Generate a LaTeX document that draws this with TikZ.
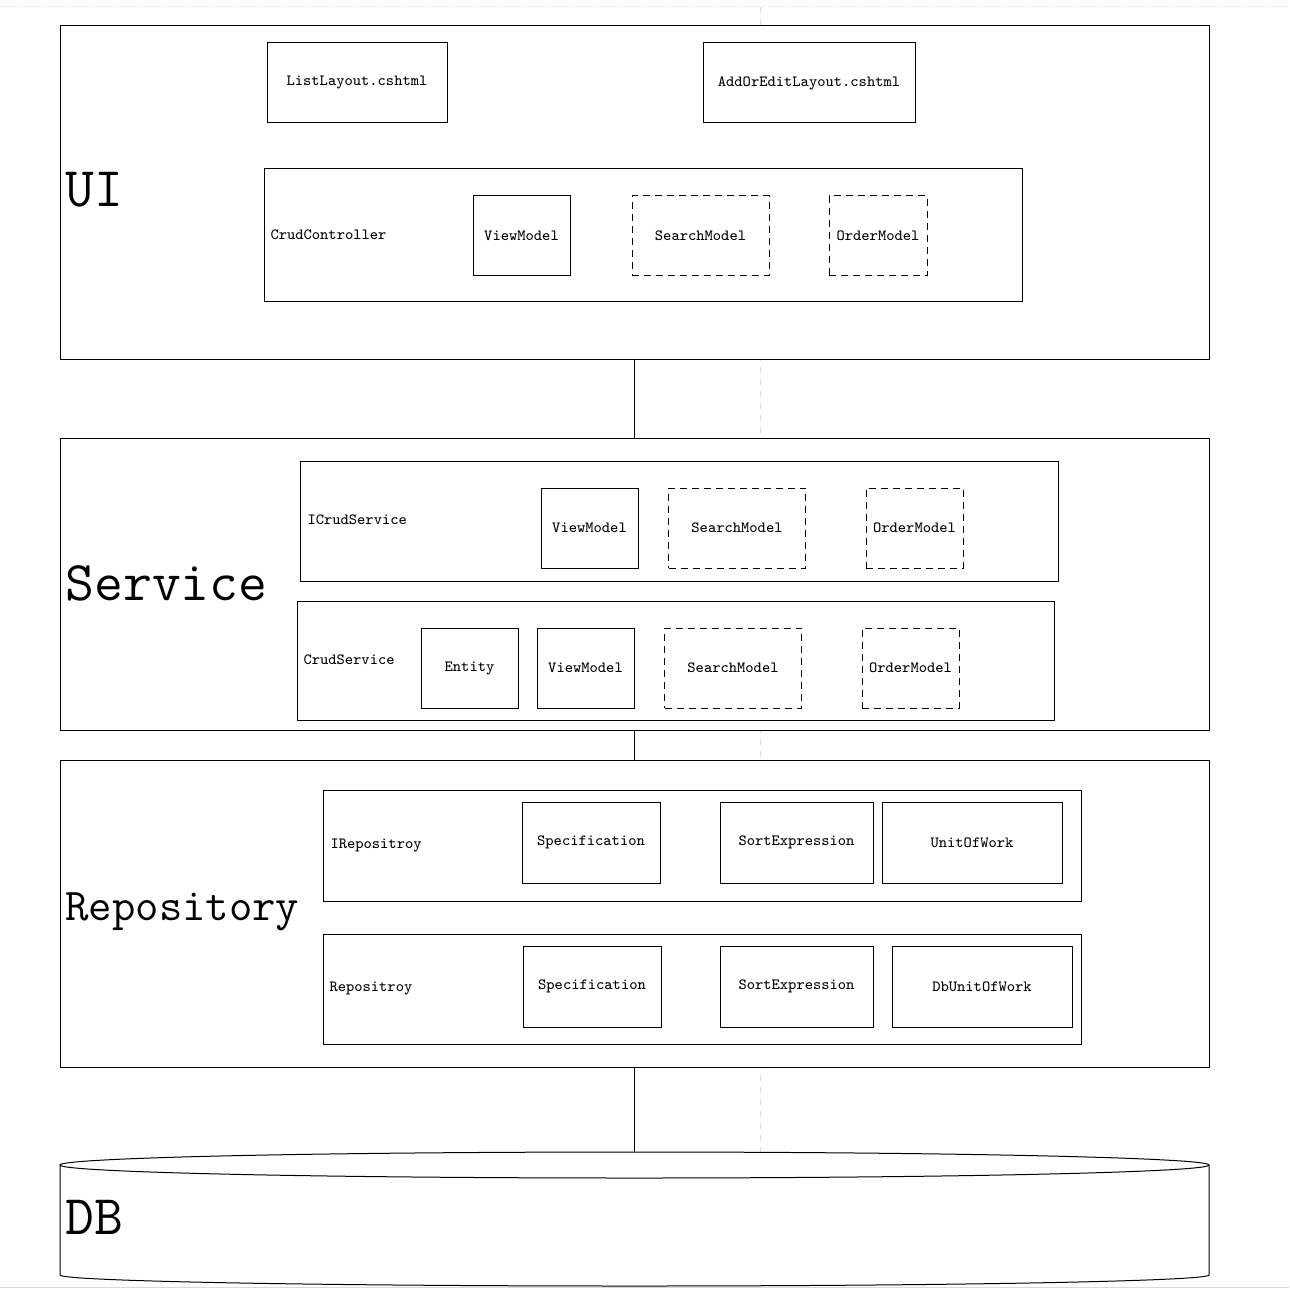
\documentclass[tikz,border=0pt]{standalone}
\usepackage{tikz}

\begin{document}
\begin{tikzpicture}[
            x=0.5pt, y=-0.5pt,
            line width=0.5pt,
            every node/.style={font=\ttfamily\fontsize{7.8}{9}\selectfont},
            box/.style={draw, fill=white, rectangle, inner sep=0pt, outer sep=0pt, align=center},
            optbox/.style={box, dash pattern=on 3.5pt off 2.5pt},
            layer/.style={box, minimum width=574.5pt},
            biglabel/.style={anchor=west, inner sep=0pt, font=\ttfamily\fontsize{28}{30}\selectfont},
            guide/.style={gray!30, line width=0.5pt}
            ]
            \useasboundingbox (0,0) rectangle (1289,1299);

            % Page guides
            \draw[guide, densely dotted] (0,7) -- (1289,7);
            \draw[guide, dashed] (760,7) -- (760,1152);
            \draw[guide] (0,1287) -- (1289,1287);

            % UI layer
            \node[layer, minimum height=166.5pt] (ui) at (634.5,192.5) {};
            \node[biglabel] (uilbl) at (65,190) {UI};
            \node[box, minimum width=90pt, minimum height=40pt] (list) at (357,83) {ListLayout.cshtml};
            \node[box, minimum width=106pt, minimum height=40pt] (edit) at (809,83) {AddOrEditLayout.cshtml};
            \node[box, minimum width=379pt, minimum height=66.5pt] (ctrl) at (643,235.5) {};
            \node[anchor=west, inner sep=0pt] (ctrllbl) at (270,235) {CrudController};
            \node[box, minimum width=48.5pt, minimum height=40pt] (vm1) at (521.5,236) {ViewModel};
            \node[optbox, minimum width=68.5pt, minimum height=40pt] (sm1) at (700.5,236) {SearchModel};
            \node[optbox, minimum width=49pt, minimum height=40pt] (om1) at (878,236) {OrderModel};

            % Service layer
            \node[layer, minimum height=146pt] (svc) at (634.5,584) {};
            \node[biglabel] (svclbl) at (65,583) {Service};
            \node[box, minimum width=379pt, minimum height=60pt] (isvc) at (679,521) {};
            \node[anchor=west, inner sep=0pt] (isvclbl) at (307,520) {ICrudService};
            \node[box, minimum width=48.5pt, minimum height=40pt] (vm2) at (589.5,528) {ViewModel};
            \node[optbox, minimum width=68.5pt, minimum height=40pt] (sm2) at (737,528) {SearchModel};
            \node[optbox, minimum width=48.5pt, minimum height=40pt] (om2) at (914.5,528) {OrderModel};
            \node[box, minimum width=378.5pt, minimum height=59.5pt] (csvc) at (675.5,660.5) {};
            \node[anchor=west, inner sep=0pt] (csvclbl) at (303,660) {CrudService};
            \node[box, minimum width=48.5pt, minimum height=40pt] (ent) at (469.5,668) {Entity};
            \node[box, minimum width=48.5pt, minimum height=40pt] (vm3) at (585.5,668) {ViewModel};
            \node[optbox, minimum width=68.5pt, minimum height=40pt] (sm3) at (733,668) {SearchModel};
            \node[optbox, minimum width=48.5pt, minimum height=40pt] (om3) at (910.5,668) {OrderModel};

            % Repository layer
            \node[layer, minimum height=153.5pt] (repo) at (634.5,913.5) {};
            \node[biglabel, font=\ttfamily\fontsize{22.7}{24}\selectfont] (repolbl) at (65,912) {Repository};
            \node[box, minimum width=379pt, minimum height=55.5pt] (irepo) at (702,845.5) {};
            \node[anchor=west, inner sep=0pt] (irepolbl) at (330,845) {IRepositroy};
            \node[box, minimum width=69pt, minimum height=40.5pt] (spec1) at (591,842.5) {Specification};
            \node[box, minimum width=76.5pt, minimum height=40.5pt] (sort1) at (796.5,842.5) {SortExpression};
            \node[box, minimum width=90pt, minimum height=40.5pt] (uow1) at (972,842.5) {UnitOfWork};
            \node[box, minimum width=379pt, minimum height=55pt] (crepo) at (702,989) {};
            \node[anchor=west, inner sep=0pt] (crepolbl) at (329,988) {Repositroy};
            \node[box, minimum width=69pt, minimum height=40.5pt] (spec2) at (592,986.5) {Specification};
            \node[box, minimum width=76.5pt, minimum height=40.5pt] (sort2) at (796.5,986.5) {SortExpression};
            \node[box, minimum width=90pt, minimum height=40.5pt] (uow2) at (982,986.5) {DbUnitOfWork};

            % DB cylinder
            \coordinate (dbtop) at (634.5,1152);
            \draw[fill=white] (60,1165) -- (60,1275) arc[start angle=180, end angle=360, x radius=574.5, y radius=-11] -- (1209,1165);
            \draw[fill=white] (634.5,1165) ellipse[x radius=574.5, y radius=13];
            \node[biglabel] (dblbl) at (65,1217) {DB};

            % Connectors
            \draw (ui.south) -- (svc.north);
            \draw (svc.south) -- (repo.north);
            \draw (repo.south) -- (dbtop);
        \end{tikzpicture}
\end{document}
